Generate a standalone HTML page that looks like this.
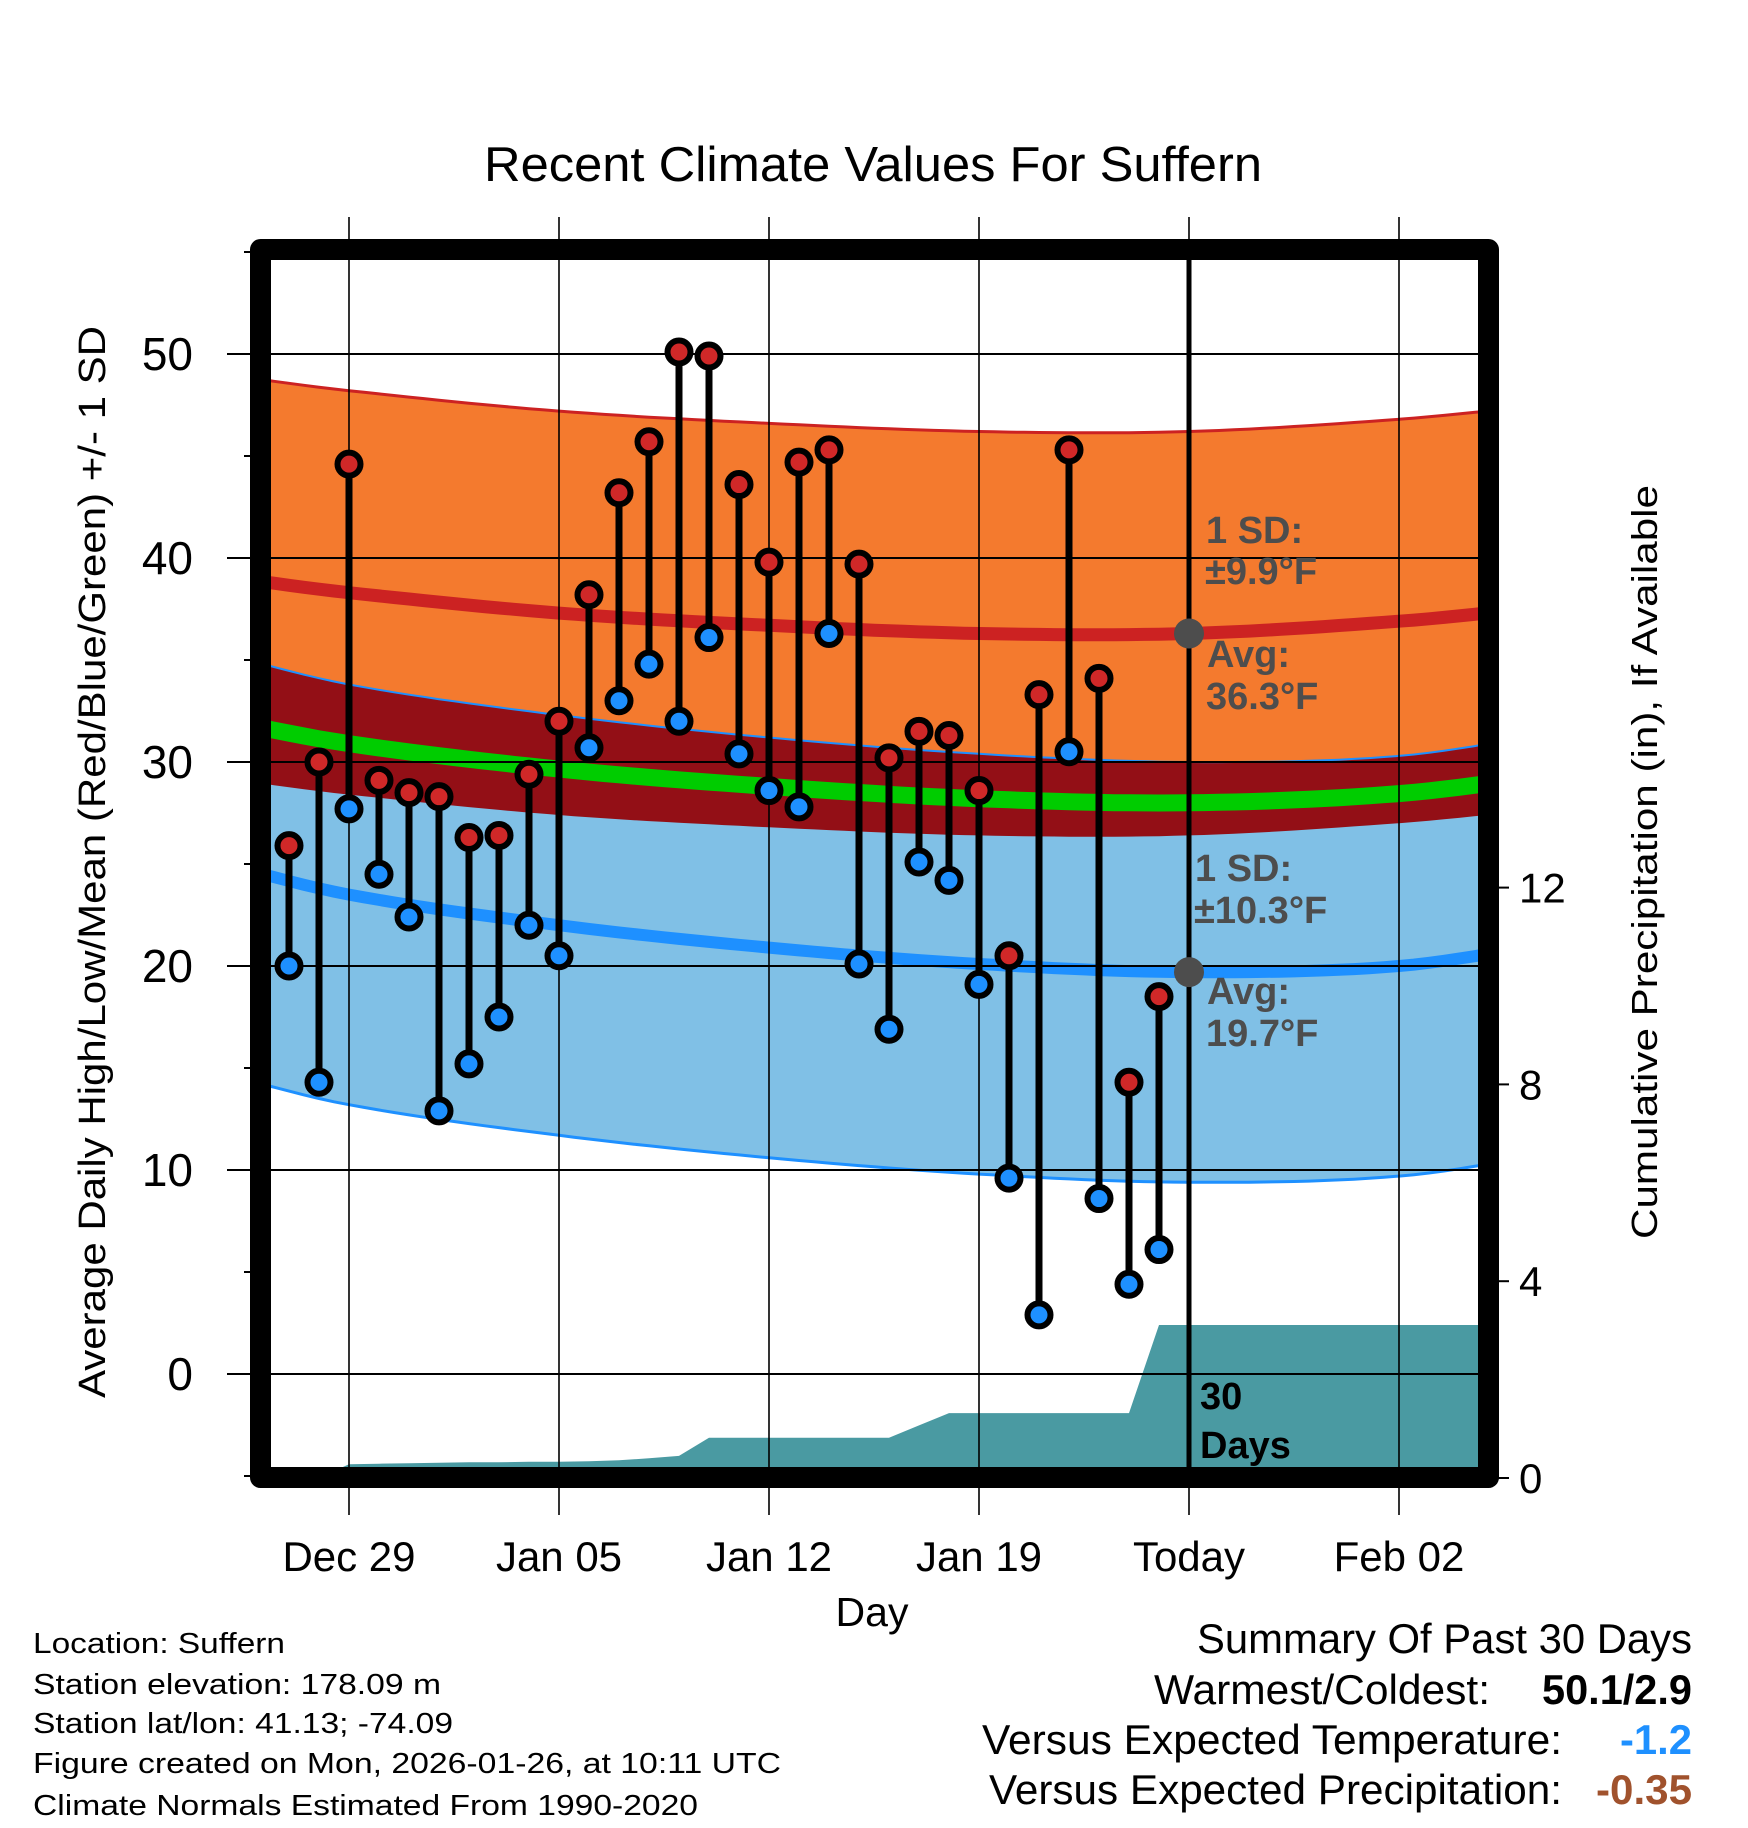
<!DOCTYPE html>
<html><head><meta charset="utf-8"><style>
html,body{margin:0;padding:0;background:#fff}
svg{display:block;font-family:"Liberation Sans",sans-serif}
</style></head><body>
<svg id="chart" width="1748" height="1828" viewBox="0 0 1748 1828" xmlns="http://www.w3.org/2000/svg">
<defs><clipPath id="plotclip"><rect x="270" y="260" width="1208" height="1207"/></clipPath></defs>
<rect width="1748" height="1828" fill="#fff"/>
<text x="873" y="181" font-size="49" text-anchor="middle" textLength="778" lengthAdjust="spacingAndGlyphs">Recent Climate Values For Suffern</text>
<g id="plot" clip-path="url(#plotclip)"></g>
<g id="grid"></g>
<g id="over" clip-path="url(#plotclip)"></g>
<rect x="260.5" y="249.5" width="1228" height="1228" fill="none" stroke="#000" stroke-width="21" stroke-linejoin="round"/>
<g id="axes"></g>
<text x="872" y="1626" font-size="41" text-anchor="middle">Day</text>
<text transform="translate(105,862) rotate(-90)" font-size="38" text-anchor="middle" textLength="1072" lengthAdjust="spacingAndGlyphs">Average Daily High/Low/Mean (Red/Blue/Green) +/- 1 SD</text>
<text transform="translate(1657,862) rotate(-90)" font-size="36" text-anchor="middle" textLength="754" lengthAdjust="spacingAndGlyphs">Cumulative Precipitation (in), If Available</text>
<g font-size="29">
<text x="33" y="1653" textLength="252" lengthAdjust="spacingAndGlyphs">Location: Suffern</text>
<text x="33" y="1694" textLength="408" lengthAdjust="spacingAndGlyphs">Station elevation: 178.09 m</text>
<text x="33" y="1733" textLength="420" lengthAdjust="spacingAndGlyphs">Station lat/lon: 41.13; -74.09</text>
<text x="33" y="1773" textLength="748" lengthAdjust="spacingAndGlyphs">Figure created on Mon, 2026-01-26, at 10:11 UTC</text>
<text x="33" y="1815" textLength="665" lengthAdjust="spacingAndGlyphs">Climate Normals Estimated From 1990-2020</text>
</g>
<g font-size="42" text-anchor="end">
<text x="1692" y="1653" textLength="495" lengthAdjust="spacingAndGlyphs">Summary Of Past 30 Days</text>
<text x="1490" y="1704" textLength="336" lengthAdjust="spacingAndGlyphs">Warmest/Coldest:</text>
<text x="1692" y="1704" font-weight="bold" textLength="150" lengthAdjust="spacingAndGlyphs">50.1/2.9</text>
<text x="1562" y="1754" textLength="580" lengthAdjust="spacingAndGlyphs">Versus Expected Temperature:</text>
<text x="1692" y="1754" font-weight="bold" fill="#1e90ff" textLength="72" lengthAdjust="spacingAndGlyphs">-1.2</text>
<text x="1562" y="1804" textLength="573" lengthAdjust="spacingAndGlyphs">Versus Expected Precipitation:</text>
<text x="1692" y="1804" font-weight="bold" fill="#a0522d" textLength="96" lengthAdjust="spacingAndGlyphs">-0.35</text>
</g>
</svg>
<script>
// ---- data ----
const dayLabels = ["Dec 27","Dec 28","Dec 29","Dec 30","Dec 31","Jan 01","Jan 02","Jan 03","Jan 04","Jan 05","Jan 06","Jan 07","Jan 08","Jan 09","Jan 10","Jan 11","Jan 12","Jan 13","Jan 14","Jan 15","Jan 16","Jan 17","Jan 18","Jan 19","Jan 20","Jan 21","Jan 22","Jan 23","Jan 24","Jan 25"];
const highs = [25.9,30.0,44.6,29.1,28.5,28.3,26.3,26.4,29.4,32.0,38.2,43.2,45.7,50.1,49.9,43.6,39.8,44.7,45.3,39.7,30.2,31.5,31.3,28.6,20.5,33.3,45.3,34.1,14.3,18.5];
const lows = [20.0,14.3,27.7,24.5,22.4,12.9,15.2,17.5,22.0,20.5,30.7,33.0,34.8,32.0,36.1,30.4,28.6,27.8,36.3,20.1,16.9,25.1,24.2,19.1,9.6,2.9,30.5,8.6,4.4,6.1];
const precip = [0,0,0.28,0.29,0.30,0.31,0.32,0.32,0.33,0.33,0.34,0.36,0.40,0.45,0.82,0.82,0.82,0.82,0.82,0.82,0.82,1.07,1.32,1.32,1.32,1.32,1.32,1.32,1.32,3.11];
const normDays = [-7,0,7,14,21,28,35,42];   // days since Dec 29
const avgHigh = [39.5,38.3,37.3,36.7,36.3,36.3,36.9,37.8];
const avgLow = [25.8,23.5,22.0,20.9,20.1,19.7,20.0,21.4];
const sdHigh = 9.9, sdLow = 10.3;
const xTickLabels = ["Dec 29","Jan 05","Jan 12","Jan 19","Today","Feb 02"];
const xTickDays = [0,7,14,21,28,35];
const yTicks = [0,10,20,30,40,50];
const y2Ticks = [0,4,8,12];
const firstDay = -2, todayDay = 28;

// ---- scales ----
const NS = "http://www.w3.org/2000/svg";
const X = d => 349 + 30*d;
const Y = t => 1374 - 20.4*t;
const Y2 = p => 1478 - 49.2*p;
function mk(tag, attrs, parent){const e=document.createElementNS(NS,tag);for(const k in attrs)e.setAttribute(k,attrs[k]);parent.appendChild(e);return e;}
const plot=document.getElementById('plot'), grid=document.getElementById('grid'), over=document.getElementById('over'), axes=document.getElementById('axes');

// smooth normals sampling (rendering only)
function interp(arr, d){
  let i=0; while(i<normDays.length-2 && d>normDays[i+1]) i++;
  const p0=arr[Math.max(i-1,0)],p1=arr[i],p2=arr[i+1],p3=arr[Math.min(i+2,arr.length-1)];
  const t=(d-normDays[i])/(normDays[i+1]-normDays[i]);
  return 0.5*((2*p1)+(-p0+p2)*t+(2*p0-5*p1+4*p2-p3)*t*t+(-p0+3*p1-3*p2+p3)*t*t*t);
}
const samp=[]; for(let d=-3; d<=38; d+=0.5) samp.push(d);
const line = f => samp.map(d=>X(d).toFixed(1)+","+Y(f(d)).toFixed(1)).join(" ");
const band = (f,g) => "M"+samp.map(d=>X(d).toFixed(1)+","+Y(f(d)).toFixed(1)).join(" L")+" L"+samp.slice().reverse().map(d=>X(d).toFixed(1)+","+Y(g(d)).toFixed(1)).join(" L")+"Z";
const hi=d=>interp(avgHigh,d), lo=d=>interp(avgLow,d);

let e;
e=mk('path',{d:band(d=>hi(d)+sdHigh,d=>hi(d)-sdHigh),fill:"#f47a2e"},plot);


e=mk('path',{d:band(d=>lo(d)+sdLow,d=>lo(d)-sdLow),fill:"#80c0e6"},plot);


e=mk('path',{d:band(d=>lo(d)+sdLow,d=>hi(d)-sdHigh),fill:"#930f16"},plot);


e=mk('polyline',{points:line(d=>hi(d)+sdHigh),fill:"none",stroke:"#cc2222","stroke-width":3},plot);


e=mk('polyline',{points:line(d=>lo(d)+sdLow),fill:"none",stroke:"#1e90ff","stroke-width":2},plot);


e=mk('polyline',{points:line(d=>lo(d)-sdLow),fill:"none",stroke:"#1e90ff","stroke-width":3},plot);


e=mk('polyline',{points:line(hi),fill:"none",stroke:"#cc2222","stroke-width":13},plot);


e=mk('polyline',{points:line(lo),fill:"none",stroke:"#1e90ff","stroke-width":12},plot);


e=mk('polyline',{points:line(d=>(hi(d)+lo(d))/2),fill:"none",stroke:"#00cc00","stroke-width":17},plot);



// precipitation area
let pts=[[270,Y2(0)]];
precip.forEach((p,i)=>pts.push([X(firstDay+i),Y2(p)]));
pts.push([1480,Y2(precip[precip.length-1])]); pts.push([1480,Y2(0)]);
e=mk('path',{d:"M"+pts.map(p=>p[0].toFixed(1)+","+p[1].toFixed(1)).join(" L")+"Z",fill:"#4a9aa2"},plot);



// gridlines
xTickDays.forEach((d,i)=>{
  const g=mk('line',{x1:X(d),x2:X(d),y1:217,y2:1515,stroke:"#000","stroke-width":1.6},grid);
  
  
  const t=mk('text',{x:X(d),y:1571,"font-size":42,"text-anchor":"middle"},axes);
  t.textContent=xTickLabels[i];
  
  
});
yTicks.forEach(v=>{
  const g=mk('line',{x1:227,x2:1478,y1:Y(v),y2:Y(v),stroke:"#000","stroke-width":2},grid);
  
  
  const t=mk('text',{x:193,y:Y(v)+16,"font-size":46,"text-anchor":"end"},axes);
  t.textContent=v;
  
  
});
for(let v=-5; v<=55; v+=10){
  const m=mk('line',{x1:244,x2:252,y1:Y(v),y2:Y(v),stroke:"#000","stroke-width":2},axes);
  
  
}
y2Ticks.forEach(v=>{
  const m=mk('line',{x1:1497,x2:1509,y1:Y2(v),y2:Y2(v),stroke:"#000","stroke-width":2},axes);
  
  
  const t=mk('text',{x:1519,y:Y2(v)+15,"font-size":42},axes);
  t.textContent=v;
  
  
});

// today line
e=mk('line',{x1:X(todayDay),x2:X(todayDay),y1:255,y2:1470,stroke:"#000","stroke-width":5},over);



// stems and markers
highs.forEach((h,i)=>{
  const x=X(firstDay+i);
  const s=mk('line',{x1:x,x2:x,y1:Y(h),y2:Y(lows[i]),stroke:"#000","stroke-width":7},over);
  
  
});
highs.forEach((h,i)=>{
  const x=X(firstDay+i);
  const a=mk('circle',{cx:x,cy:Y(h),r:11.5,fill:"#d02828",stroke:"#000","stroke-width":6},over);
  
  
  const b=mk('circle',{cx:x,cy:Y(lows[i]),r:11.5,fill:"#1e90ff",stroke:"#000","stroke-width":6},over);
  
  
});

// annotations
const tx=X(todayDay);
e=mk('circle',{cx:tx,cy:Y(avgHigh[5]),r:15,fill:"#4d4d4d"},over);


e=mk('circle',{cx:tx,cy:Y(avgLow[5]),r:15,fill:"#4d4d4d"},over);


const ann=[["1 SD:",1206,543,"high-sd-label"],["±9.9°F",1205,584,"high-sd-value"],["Avg:",1207,667,"avg-high-label"],["36.3°F",1206,709,"avg-high-value"],
 ["1 SD:",1195,881,"low-sd-label"],["±10.3°F",1194,923,"low-sd-value"],["Avg:",1207,1004,"avg-low-label"],["19.7°F",1206,1046,"avg-low-value"],
 ["30",1200,1409,"days-count"],["Days",1200,1458,"days-label"]];
ann.forEach(a=>{
  const t=mk('text',{x:a[1],y:a[2],"font-size":38,"font-weight":"bold",fill:a[3].startsWith('days')?"#000":"#4d4d4d"},over);
  t.textContent=a[0];
  
  
});
</script>
</body></html>
